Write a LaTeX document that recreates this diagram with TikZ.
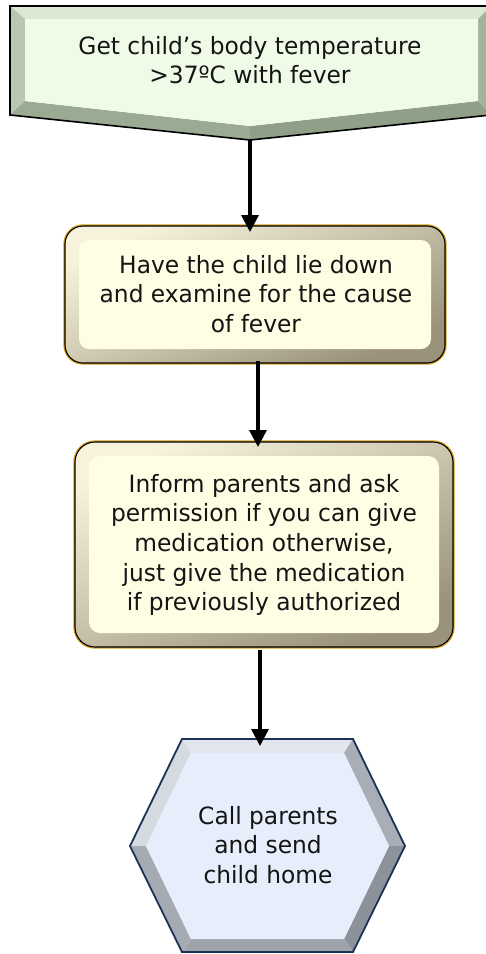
\documentclass[tikz,border=0pt]{standalone}
\usepackage{fontspec}
\newfontfamily\flowfont{DejaVu Sans}[FakeStretch=0.98]
\usetikzlibrary{arrows.meta}

% palette
\definecolor{greenface}{HTML}{EFFBE6}
\definecolor{greentop}{HTML}{DCE8D4}
\definecolor{greenleft}{HTML}{B9C7B1}
\definecolor{greenbl}{HTML}{9AAA93}
\definecolor{greenbr}{HTML}{8F9F88}
\definecolor{greenright}{HTML}{A3B29C}
\definecolor{creamface}{HTML}{FFFDE3}
\definecolor{creamlight}{HTML}{F6F2DC}
\definecolor{creamdark}{HTML}{9A927A}
\definecolor{goldedge}{HTML}{D6A21C}
\definecolor{blueface}{HTML}{E6EEFB}
\definecolor{blueedge}{HTML}{1C3358}
\definecolor{hexA}{HTML}{E2E6EC}
\definecolor{hexB}{HTML}{A9AEB6}
\definecolor{hexC}{HTML}{8D929A}
\definecolor{hexD}{HTML}{9EA3AB}
\definecolor{hexE}{HTML}{A6ABB3}
\definecolor{hexF}{HTML}{D5D9E0}
\definecolor{textcol}{HTML}{141414}

\begin{document}
\begin{tikzpicture}[x=1pt,y=-1pt,
  steptext/.style={font=\flowfont\fontsize{23.8}{29.6}\selectfont, align=center,
    text=textcol, inner sep=0pt},
  flowarrow/.style={line width=3.4pt, draw=black,
    -{Triangle[width=17pt,length=17pt]}},
  roundbox/.style={rounded corners=#1},
]
\useasboundingbox (0,0) rectangle (486,954);

% ---------- start: bevelled pentagon pointing down ----------
\coordinate (A) at (10,6);   \coordinate (B) at (491,6);
\coordinate (C) at (491,115);\coordinate (P) at (250,140);
\coordinate (D) at (10,115);
\coordinate (a) at (25,19);  \coordinate (b) at (478,19);
\coordinate (c) at (478,101);\coordinate (p) at (250,126);
\coordinate (d) at (25,101);
\begin{scope}
  \clip (0,0) rectangle (486,954);
  \fill[greentop]   (A) -- (B) -- (b) -- (a) -- cycle;
  \fill[greenleft]  (A) -- (a) -- (d) -- (D) -- cycle;
  \fill[greenbl]    (D) -- (d) -- (p) -- (P) -- cycle;
  \fill[greenbr]    (P) -- (p) -- (c) -- (C) -- cycle;
  \fill[greenright] (C) -- (c) -- (b) -- (B) -- cycle;
  \fill[greenface]  (a) -- (b) -- (c) -- (p) -- (d) -- cycle;
  \draw[black, line width=1.6pt, line join=miter]
    (A) -- (B) -- (C) -- (P) -- (D) -- cycle;
\end{scope}
\node[steptext] (n1) at (250,60) {Get child’s body temperature\\>37ºC with fever};

% ---------- second step: bevelled rounded box ----------
\draw[goldedge, line width=3.4pt, roundbox=18pt] (65,226) rectangle (445,363);
\shade[top color=creamlight, bottom color=creamdark, shading angle=25,
  roundbox=18pt] (65,226) rectangle (445,363);
\fill[creamface, roundbox=10pt] (79,240) rectangle (431,349);
\draw[black, line width=1.1pt, roundbox=18pt] (65,226) rectangle (445,363);
\coordinate (s2top) at (250,226);
\coordinate (s2bot) at (258,361);
\node[steptext] (n2) at (256,294) {Have the child lie down\\and examine for the cause\\of fever};

% ---------- third step: bevelled rounded box ----------
\draw[goldedge, line width=3.4pt, roundbox=20pt] (75,442) rectangle (453,647);
\shade[top color=creamlight, bottom color=creamdark, shading angle=25,
  roundbox=20pt] (75,442) rectangle (453,647);
\fill[creamface, roundbox=11pt] (89,456) rectangle (439,633);
\draw[black, line width=1.1pt, roundbox=20pt] (75,442) rectangle (453,647);
\coordinate (s3top) at (258,442);
\coordinate (s3bot) at (260,650);
\node[steptext] (n3) at (264,545) {Inform parents and ask\\permission if you can give\\medication otherwise,\\just give the medication\\if previously authorized};

% ---------- end: bevelled hexagon ----------
\coordinate (HL) at (130,846); \coordinate (HTL) at (182,739);
\coordinate (HTR) at (353,739);\coordinate (HR) at (405,846);
\coordinate (HBR) at (353,952);\coordinate (HBL) at (182,952);
\coordinate (hl) at (146,846); \coordinate (htl) at (191,753);
\coordinate (htr) at (344,753);\coordinate (hr) at (389,846);
\coordinate (hbr) at (344,939);\coordinate (hbl) at (191,939);
\fill[hexA] (HTL) -- (HTR) -- (htr) -- (htl) -- cycle;
\fill[hexB] (HTR) -- (HR) -- (hr) -- (htr) -- cycle;
\fill[hexC] (HR) -- (HBR) -- (hbr) -- (hr) -- cycle;
\fill[hexD] (HBR) -- (HBL) -- (hbl) -- (hbr) -- cycle;
\fill[hexE] (HBL) -- (HL) -- (hl) -- (hbl) -- cycle;
\fill[hexF] (HL) -- (HTL) -- (htl) -- (hl) -- cycle;
\fill[blueface] (hl) -- (htl) -- (htr) -- (hr) -- (hbr) -- (hbl) -- cycle;
\draw[blueedge, line width=1.8pt, line join=miter]
  (HL) -- (HTL) -- (HTR) -- (HR) -- (HBR) -- (HBL) -- cycle;
\coordinate (s4top) at (260,737);
\node[steptext] (n4) at (268,845) {Call parents\\and send\\child home};

% ---------- connectors ----------
\draw[flowarrow] (P) -- ([yshift=-6pt]s2top);
\draw[flowarrow] (s2bot) -- ([yshift=-5pt]s3top);
\draw[flowarrow] (s3bot) -- ([yshift=-9pt]s4top);
\end{tikzpicture}
\end{document}
